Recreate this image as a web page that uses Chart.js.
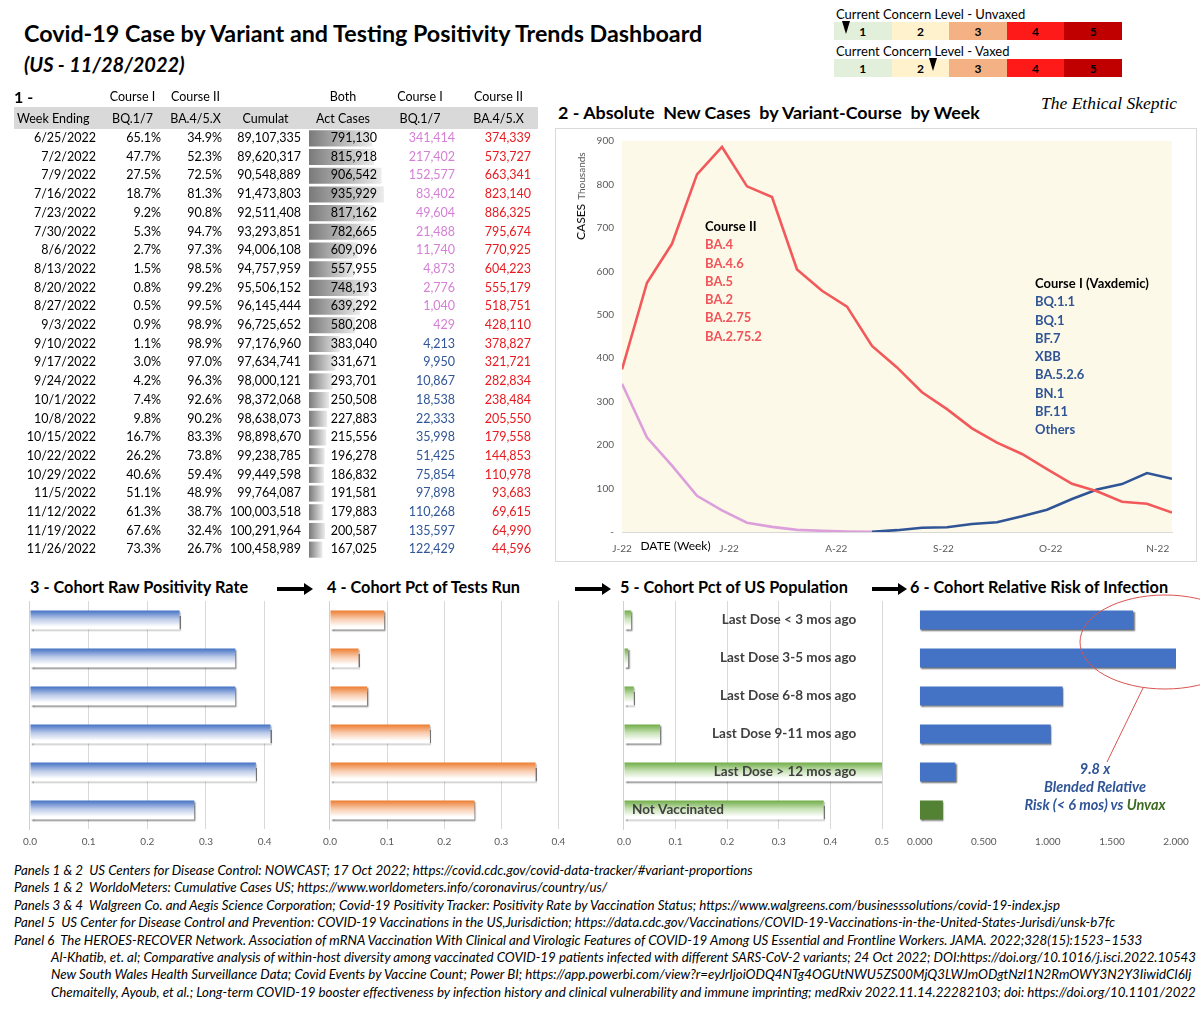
<!DOCTYPE html>
<html>
<head>
<meta charset="utf-8">
<script src="https://cdn.jsdelivr.net/npm/chart.js@4.4.0/dist/chart.umd.min.js"></script>
<style>
body{margin:0;width:1200px;height:1011px;overflow:hidden;background:#fff;font-family:Lato,"Open Sans",sans-serif;color:#000;position:relative}
.abs{position:absolute}
.pre{white-space:pre}
#title{left:24px;top:19px;font-size:23.3px;font-weight:bold}
#subtitle{left:24px;top:52px;font-size:20px;font-weight:bold;font-style:italic}
.lvlLabel{left:836px;font-size:13px}
.lvlRow{left:834px;width:288px;height:18px;display:flex}
.lvlRow div{flex:1;text-align:center;font-weight:bold;font-size:12px;line-height:19px}
.marker{width:0;height:0;border-left:4px solid transparent;border-right:4px solid transparent;border-top:13px solid #000}
#tbl{left:14px;top:86px;border-collapse:collapse;table-layout:fixed;font-size:12.5px;z-index:2}
#tbl td{padding:0 4px 0 0;text-align:right;white-space:nowrap;overflow:hidden}
#tbl tr.h td{text-align:center;height:21px;padding:0}
#tbl tr.h2 td{background:#d9d9d9;height:22px}
#tbl tr.d td{height:18.7px;line-height:18.7px}
#tbl td.c1{color:#d67fd6}
#tbl td.c1b{color:#2f5597}
#tbl td.c2{color:#e8191e}
#frame2{left:555px;top:128px;width:640px;height:432px;border:1px solid #d9d9d9}
#t2{left:558px;top:101px;font-size:17.9px;font-weight:bold}
#skeptic{left:1041px;top:93px;font-family:"Liberation Serif",serif;font-style:italic;font-size:17.5px}
#ytitle{left:571px;top:140px;height:100px;writing-mode:vertical-rl;transform:rotate(180deg);white-space:nowrap}
.ann{font-size:13px;font-weight:bold;line-height:18.3px}
.ptitle{top:577px;font-size:16.3px;font-weight:bold}
.arrow{top:587px;height:4px;background:#000}
.arrow:after{content:"";position:absolute;right:-8px;top:-4px;border-top:6px solid transparent;border-bottom:6px solid transparent;border-left:9px solid #000}
#riskNote{left:1010px;top:760px;width:170px;text-align:center;font-size:14.5px;font-weight:bold;font-style:italic;color:#2f5597;line-height:18px}
#foot{left:14px;top:862px;width:1186px;font-size:13.3px;font-style:italic;line-height:17.4px;white-space:pre;overflow:hidden}
#foot .in{padding-left:37px}
</style>
</head>
<body>

<div id="title" class="abs">Covid-19 Case by Variant and Testing Positivity Trends Dashboard</div>
<div id="subtitle" class="abs">(US - 11/28/2022)</div>

<div class="abs lvlLabel" style="top:6px">Current Concern Level - Unvaxed</div>
<div class="abs lvlRow" id="lvlUnvaxed" style="top:22px"></div>
<div class="abs lvlLabel" style="top:43px">Current Concern Level - Vaxed</div>
<div class="abs lvlRow" id="lvlVaxed" style="top:59px"></div>

<table id="tbl" class="abs">
<colgroup><col style="width:86px"><col style="width:65px"><col style="width:61px"><col style="width:79px"><col style="width:76px"><col style="width:78px"><col style="width:79px"></colgroup>
<tbody id="tbody">
<tr class="h"><td style="text-align:left;font-weight:bold;font-size:16px">1 -</td><td>Course I</td><td>Course II</td><td></td><td>Both</td><td>Course I</td><td>Course II</td></tr>
<tr class="h h2"><td style="text-align:left;padding-left:3px">Week Ending</td><td>BQ.1/7</td><td>BA.4/5.X</td><td>Cumulat</td><td>Act Cases</td><td>BQ.1/7</td><td>BA.4/5.X</td></tr>
</tbody>
</table>
<canvas id="actBars" class="abs" width="76" height="430" style="left:309px;top:129px;z-index:1"></canvas>

<div id="t2" class="abs pre">2 - Absolute  New Cases  by Variant-Course  by Week</div>
<div id="skeptic" class="abs">The Ethical Skeptic</div>
<div id="frame2" class="abs"></div>
<canvas id="casesChart" class="abs" width="640" height="431" style="left:556px;top:129px"></canvas>
<div id="ytitle" class="abs"><span style="font-size:12px">CASES</span> <span style="font-size:10px;color:#595959">Thousands</span></div>
<div class="abs ann" style="left:705px;top:217px">
  <div>Course II</div>
  <div style="color:#f0545a">BA.4<br>BA.4.6<br>BA.5<br>BA.2<br>BA.2.75<br>BA.2.75.2</div>
</div>
<div class="abs ann" style="left:1035px;top:274px">
  <div>Course I (Vaxdemic)</div>
  <div style="color:#2f5597">BQ.1.1<br>BQ.1<br>BF.7<br>XBB<br>BA.5.2.6<br>BN.1<br>BF.11<br>Others</div>
</div>

<div class="abs ptitle" style="left:30px">3 - Cohort Raw Positivity Rate</div>
<div class="abs ptitle" style="left:327px">4 - Cohort Pct of Tests Run</div>
<div class="abs ptitle" style="left:620px">5 - Cohort Pct of US Population</div>
<div class="abs ptitle" style="left:910px">6 - Cohort Relative Risk of Infection</div>
<div class="abs arrow" style="left:277px;width:28px"></div>
<div class="abs arrow" style="left:575px;width:28px"></div>
<div class="abs arrow" style="left:872px;width:27px"></div>

<canvas id="p3" class="abs" width="294" height="256" style="left:16px;top:598px"></canvas>
<canvas id="p4" class="abs" width="279" height="256" style="left:316px;top:598px"></canvas>
<canvas id="p5" class="abs" width="286" height="256" style="left:610px;top:598px"></canvas>
<canvas id="p6" class="abs" width="300" height="256" style="left:900px;top:598px"></canvas>

<svg class="abs" style="left:1040px;top:585px" width="160" height="190">
  <ellipse cx="125" cy="57" rx="85" ry="47" fill="none" stroke="#d9534f" stroke-width="1"/>
  <line x1="103" y1="103" x2="67" y2="177" stroke="#d9534f" stroke-width="1"/>
</svg>
<div id="riskNote" class="abs">9.8 x<br>Blended Relative<br>Risk (&lt; 6 mos) vs <span style="color:#3d6b21">Unvax</span></div>

<div id="foot" class="abs"><div>Panels 1 &amp; 2  US Centers for Disease Control: NOWCAST; 17 Oct 2022; https://covid.cdc.gov/covid-data-tracker/#variant-proportions</div><div>Panels 1 &amp; 2  WorldoMeters: Cumulative Cases US; https://www.worldometers.info/coronavirus/country/us/</div><div>Panels 3 &amp; 4  Walgreen Co. and Aegis Science Corporation; Covid-19 Positivity Tracker: Positivity Rate by Vaccination Status; https://www.walgreens.com/businesssolutions/covid-19-index.jsp</div><div>Panel 5  US Center for Disease Control and Prevention: COVID-19 Vaccinations in the US,Jurisdiction; https://data.cdc.gov/Vaccinations/COVID-19-Vaccinations-in-the-United-States-Jurisdi/unsk-b7fc</div><div>Panel 6  The HEROES-RECOVER Network. Association of mRNA Vaccination With Clinical and Virologic Features of COVID-19 Among US Essential and Frontline Workers. JAMA. 2022;328(15):1523–1533</div><div class="in">Al-Khatib, et. al; Comparative analysis of within-host diversity among vaccinated COVID-19 patients infected with different SARS-CoV-2 variants; 24 Oct 2022; DOI:https://doi.org/10.1016/j.isci.2022.10543</div><div class="in">New South Wales Health Surveillance Data; Covid Events by Vaccine Count; Power BI; https://app.powerbi.com/view?r=eyJrIjoiODQ4NTg4OGUtNWU5ZS00MjQ3LWJmODgtNzI1N2RmOWY3N2Y3IiwidCI6Ij</div><div class="in">Chemaitelly, Ayoub, et al.; Long-term COVID-19 booster effectiveness by infection history and clinical vulnerability and immune imprinting; medRxiv 2022.11.14.22282103; doi: https://doi.org/10.1101/2022</div></div>

<script>
// Panel 1 / 2 data
const weekEnding = ["6/25/2022","7/2/2022","7/9/2022","7/16/2022","7/23/2022","7/30/2022","8/6/2022","8/13/2022","8/20/2022","8/27/2022","9/3/2022","9/10/2022","9/17/2022","9/24/2022","10/1/2022","10/8/2022","10/15/2022","10/22/2022","10/29/2022","11/5/2022","11/12/2022","11/19/2022","11/26/2022"];
const pctCourse1 = [65.1,47.7,27.5,18.7,9.2,5.3,2.7,1.5,0.8,0.5,0.9,1.1,3.0,4.2,7.4,9.8,16.7,26.2,40.6,51.1,61.3,67.6,73.3];
const pctCourse2 = [34.9,52.3,72.5,81.3,90.8,94.7,97.3,98.5,99.2,99.5,98.9,98.9,97.0,96.3,92.6,90.2,83.3,73.8,59.4,48.9,38.7,32.4,26.7];
const cumulative = [89107335,89620317,90548889,91473803,92511408,93293851,94006108,94757959,95506152,96145444,96725652,97176960,97634741,98000121,98372068,98638073,98898670,99238785,99449598,99764087,100003518,100291964,100458989];
const actCases = [791130,815918,906542,935929,817162,782665,609096,557955,748193,639292,580208,383040,331671,293701,250508,227883,215556,196278,186832,191581,179883,200587,167025];
const course1Cases = [341414,217402,152577,83402,49604,21488,11740,4873,2776,1040,429,4213,9950,10867,18538,22333,35998,51425,75854,97898,110268,135597,122429];
const course2Cases = [374339,573727,663341,823140,886325,795674,770925,604223,555179,518751,428110,378827,321721,282834,238484,205550,179558,144853,110978,93683,69615,64990,44596];
// last week the old Course I lineage is counted, first week of the Vaxdemic lineage
const lineageSwitch = 10;

// Panels 3-6 data
const cohorts = ["Last Dose < 3 mos ago","Last Dose 3-5 mos ago","Last Dose 6-8 mos ago","Last Dose 9-11 mos ago","Last Dose > 12 mos ago","Not Vaccinated"];
const positivityRate = [0.255,0.35,0.35,0.41,0.385,0.28];
const pctTestsRun = [0.095,0.05,0.065,0.175,0.36,0.253];
const pctPopulation = [0.014,0.008,0.019,0.07,0.5,0.387];
const relativeRisk = [1.665,2.0,1.115,1.022,0.277,0.18];

// Concern levels
const concernLevels = [1,2,3,4,5];
const levelColors = ["#e2efda","#fff2cc","#f4b183","#ff1a1a","#c00000"];

function buildLevels(id, markerLevel, side) {
    const row = document.getElementById(id);
    concernLevels.forEach((lv, i) => {
        const cell = document.createElement("div");
        cell.style.background = levelColors[i];
        cell.style.position = "relative";
        cell.textContent = lv;
        if (lv === markerLevel) {
            const m = document.createElement("div");
            m.className = "marker";
            m.style.position = "absolute";
            m.style.top = "-1px";
            m.style.left = side === "left" ? "8px" : "37px";
            cell.appendChild(m);
        }
        row.appendChild(cell);
    });
}
buildLevels("lvlUnvaxed", 1, "left");
buildLevels("lvlVaxed", 2, "right");

// Table
const tbody = document.getElementById("tbody");
const fmt = n => n.toLocaleString("en-US");
weekEnding.forEach((w, i) => {
    const c1class = i <= lineageSwitch ? "c1" : "c1b";
    tbody.innerHTML += `
    <tr class="d">
        <td>${w}</td>
        <td>${pctCourse1[i].toFixed(1)}%</td>
        <td>${pctCourse2[i].toFixed(1)}%</td>
        <td>${fmt(cumulative[i])}</td>
        <td>${fmt(actCases[i])}</td>
        <td class="${c1class}">${fmt(course1Cases[i])}</td>
        <td class="c2" style="padding-right:7px">${fmt(course2Cases[i])}</td>
    </tr>`;
});

const noFrills = { legend: { display: false }, tooltip: { enabled: false } };

// Data bars in the Act Cases column
new Chart(document.getElementById("actBars"), {
    type: "bar",
    data: {
        labels: weekEnding,
        datasets: [{
            data: actCases,
            barPercentage: 0.86,
            categoryPercentage: 1,
            backgroundColor: ctx => {
                const c = ctx.chart;
                if (!c.chartArea) return "#999";
                const x = c.scales.x;
                const g = c.ctx.createLinearGradient(x.getPixelForValue(0), 0, x.getPixelForValue(ctx.raw), 0);
                g.addColorStop(0, "#7a7a7a");
                g.addColorStop(1, "#ececec");
                return g;
            }
        }]
    },
    options: {
        indexAxis: "y",
        animation: false,
        responsive: false,
        plugins: noFrills,
        scales: {
            x: { display: false, min: 0, max: 950000 },
            y: { display: false }
        }
    }
});

// Panel 2 line chart
const startDate = new Date(2022, 5, 25);
const dayOf = s => {
    const [m, d, y] = s.split("/").map(Number);
    return Math.round((new Date(y, m - 1, d) - startDate) / 86400000);
};
const xDays = weekEnding.map(dayOf);
const course2Pts = course2Cases.map((v, i) => ({ x: xDays[i], y: v / 1000 }));
const oldCourse1Pts = course1Cases.map((v, i) => ({ x: xDays[i], y: v / 1000 })).filter((p, i) => i <= lineageSwitch);
const newCourse1Pts = course1Cases.map((v, i) => ({ x: xDays[i], y: v / 1000 })).filter((p, i) => i >= lineageSwitch);

const plotBg = {
    id: "plotBg",
    beforeDatasetsDraw(chart, args, opts) {
        const { ctx, chartArea: a } = chart;
        ctx.save();
        ctx.fillStyle = opts.color;
        ctx.fillRect(a.left, a.top, a.right - a.left, a.bottom - a.top);
        ctx.restore();
    }
};
const dateTitle = {
    id: "dateTitle",
    afterDraw(chart) {
        const { ctx, scales } = chart;
        ctx.save();
        ctx.font = "12px Lato";
        ctx.fillStyle = "#000";
        ctx.textAlign = "center";
        ctx.textBaseline = "middle";
        ctx.fillText("DATE (Week)", scales.x.getPixelForValue(15), chart.chartArea.bottom + 14);
        ctx.restore();
    }
};

const lastDay = xDays[xDays.length - 1];
new Chart(document.getElementById("casesChart"), {
    type: "line",
    data: {
        datasets: [
            { label: "Course II", data: course2Pts, borderColor: "#f2595b", borderWidth: 2.6 },
            { label: "Course I", data: oldCourse1Pts, borderColor: "#dc9fdc", borderWidth: 2.6 },
            { label: "Course I (Vaxdemic)", data: newCourse1Pts, borderColor: "#2f5597", borderWidth: 2.6 }
        ]
    },
    plugins: [plotBg, dateTitle],
    options: {
        animation: false,
        responsive: false,
        elements: { point: { radius: 0 }, line: { tension: 0 } },
        layout: { padding: { top: 12, right: 24, left: 0, bottom: 0 } },
        plugins: Object.assign({ plotBg: { color: "#fdf9e8" } }, noFrills),
        scales: {
            x: {
                type: "linear",
                min: 0,
                max: lastDay,
                afterBuildTicks: s => {
                    const t = [];
                    for (let d = 0; d <= lastDay; d += 30) t.push({ value: d });
                    s.ticks = t;
                },
                afterFit: s => { s.height = 28; },
                grid: { display: false },
                border: { color: "#d9d9d9" },
                ticks: {
                    maxRotation: 0,
                    autoSkip: false,
                    color: "#595959",
                    font: { size: 10, family: "Lato" },
                    callback: v => {
                        const d = new Date(startDate.getTime() + v * 86400000);
                        return d.toLocaleString("en-US", { month: "short" })[0] + "-" + String(d.getFullYear()).slice(2);
                    }
                }
            },
            y: {
                min: 0,
                max: 900,
                afterFit: s => { s.width = 66; },
                grid: { display: false },
                border: { display: false },
                ticks: {
                    stepSize: 100,
                    padding: 0,
                    color: "#595959",
                    font: { size: 10, family: "Lato" },
                    callback: v => v === 0 ? "-" : v
                }
            }
        }
    }
});

// Panels 3-6 horizontal bars
function fadeFill(color, shade) {
    return ctx => {
        const c = ctx.chart, a = c.chartArea;
        if (!a) return color;
        const step = (a.bottom - a.top) / cohorts.length;
        const mid = c.scales.y.getPixelForValue(ctx.dataIndex);
        const h = step * 0.25;
        const g = c.ctx.createLinearGradient(0, mid - h, 0, mid + h);
        g.addColorStop(0, color);
        g.addColorStop(0.45, shade);
        g.addColorStop(0.85, "#ffffff");
        g.addColorStop(1, "#ffffff");
        return g;
    };
}

const barShadow = {
    id: "barShadow",
    beforeDatasetsDraw(chart) {
        const c = chart.ctx;
        c.save();
        c.shadowColor = "rgba(0,0,0,0.55)";
        c.shadowOffsetX = 1.5;
        c.shadowOffsetY = 1.5;
        c.shadowBlur = 1.5;
    },
    afterDatasetsDraw(chart) {
        chart.ctx.restore();
    }
};

const tickFont = { size: 10, family: "Lato" };

function cohortChart(id, values, fill, xOpts, yWidth, padRight, extraPlugins) {
    return new Chart(document.getElementById(id), {
        type: "bar",
        data: {
            labels: cohorts,
            datasets: [{ data: values, backgroundColor: fill, barPercentage: 0.5, categoryPercentage: 1 }]
        },
        plugins: [barShadow].concat(extraPlugins || []),
        options: {
            indexAxis: "y",
            animation: false,
            responsive: false,
            layout: { padding: { top: 3, right: padRight, left: 0, bottom: 0 } },
            plugins: noFrills,
            scales: {
                x: Object.assign({
                    min: 0,
                    afterFit: s => { s.height = 25; },
                    border: { display: false },
                    grid: { color: "#d9d9d9", drawTicks: false }
                }, xOpts),
                y: {
                    afterFit: s => { s.width = yWidth; },
                    grid: { display: false },
                    border: { display: xOpts.axisLine !== false, color: "#d0d0d0" },
                    ticks: { display: false }
                }
            }
        }
    });
}

// ticks every 0.1 up to the last whole tenth below the axis maximum
const tenthTicks = s => {
    const t = [];
    for (let k = 0; k / 10 <= s.max + 1e-9; k++) t.push({ value: k / 10 });
    s.ticks = t;
};

cohortChart("p3", positivityRate, fadeFill("#4472c4", "#bccbe9"),
    { max: 0.45, afterBuildTicks: tenthTicks, ticks: { padding: 7, color: "#595959", font: tickFont, callback: v => v.toFixed(1) } },
    10, 16);

cohortChart("p4", pctTestsRun, fadeFill("#ed7d31", "#f9cdb0"),
    { max: 0.45, afterBuildTicks: tenthTicks, ticks: { padding: 7, color: "#595959", font: tickFont, callback: v => v.toFixed(1) } },
    10, 8);

const cohortLabels = {
    id: "cohortLabels",
    afterDatasetsDraw(chart) {
        const { ctx, scales } = chart;
        ctx.save();
        ctx.font = "bold 13.5px Lato";
        ctx.fillStyle = "#404040";
        ctx.textBaseline = "middle";
        cohorts.forEach((lab, i) => {
            const y = scales.y.getPixelForValue(i);
            if (i === cohorts.length - 1) {
                ctx.textAlign = "left";
                ctx.fillText(lab, scales.x.getPixelForValue(0) + 8, y);
            } else {
                ctx.textAlign = "right";
                ctx.fillText(lab, scales.x.getPixelForValue(0.45), y);
            }
        });
        ctx.restore();
    }
};

cohortChart("p5", pctPopulation, fadeFill("#70ad47", "#c9e2b8"),
    { max: 0.5, afterBuildTicks: tenthTicks, ticks: { padding: 7, color: "#595959", font: tickFont, callback: v => v.toFixed(1) } },
    10.7, 11, [cohortLabels]);

cohortChart("p6", relativeRisk, relativeRisk.map((v, i) => i === cohorts.length - 1 ? "#548235" : "#4472c4"),
    { max: 2, axisLine: false, grid: { display: false, drawTicks: false }, ticks: { stepSize: 0.5, padding: 7, color: "#595959", font: tickFont, callback: v => v.toFixed(3) } },
    14.6, 24);
</script>
</body>
</html>
